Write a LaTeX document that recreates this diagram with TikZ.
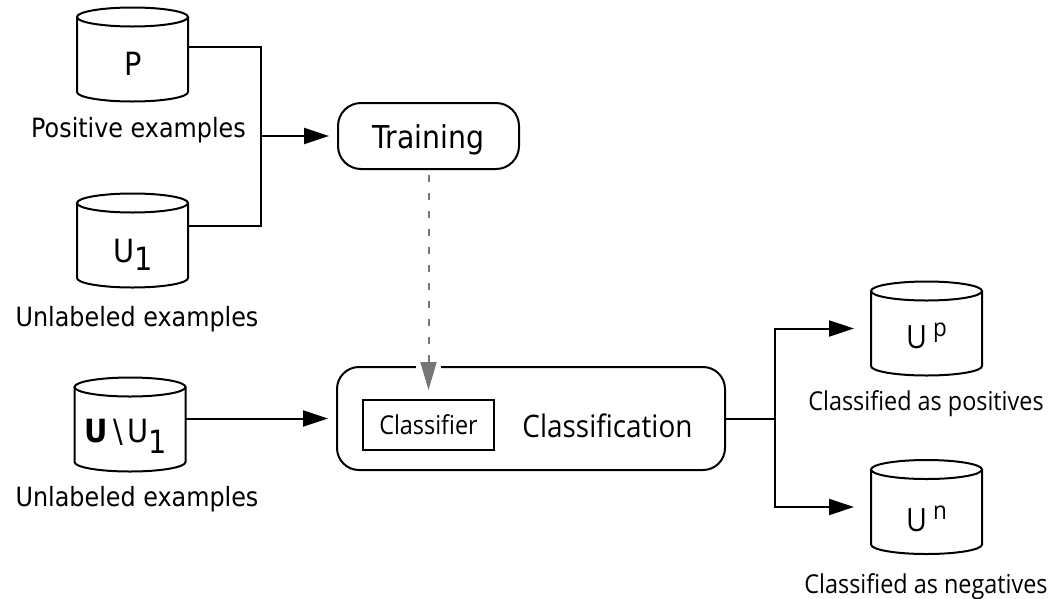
\documentclass[tikz,border=0pt]{standalone}
\usepackage{fontspec}
\setmainfont{DejaVu Sans}[FakeStretch=0.9]
\newfontfamily\myr{Open Sans}[FakeStretch=0.9]
\usetikzlibrary{arrows.meta}
\definecolor{arrowgray}{RGB}{118,118,118}
\tikzset{
  x=1pt,y=-1pt,
  every path/.style={line width=2pt},
  cylbody/.style={minimum width=111pt, minimum height=75pt, inner sep=0pt, outer sep=0pt, draw=none},
  lbl/.style={font=\fontsize{26.5}{30}\selectfont, anchor=base, inner sep=0pt},
  rlbl/.style={font=\myr\fontsize{26}{30}\selectfont, anchor=base, inner sep=0pt},
  inlbl/.style={anchor=base, inner sep=0pt},
  proc/.style={draw, line width=2pt, rounded corners=23pt, inner sep=0pt, outer sep=0pt},
  arr/.style={-{Triangle[length=25pt,width=16pt]}},
  dasharr/.style={draw=arrowgray, dash pattern=on 7pt off 11pt, line width=2pt,
    -{Triangle[length=28pt,width=16pt,fill=arrowgray]}}
}
\newcommand{\drawcyl}[1]{%
  \draw (#1.north west) -- (#1.south west) arc[start angle=180,end angle=360,x radius=55.5pt,y radius=9.5pt] -- (#1.north east);
  \draw (#1.north) ellipse[x radius=55.5pt,y radius=9.5pt];}
\begin{document}
\begin{tikzpicture}
\useasboundingbox (0,0) rectangle (1056,598);
% cylinders
\node[cylbody] (P) at (132.5,54.5) {};
\node[cylbody] (U1) at (132.5,240.5) {};
\node[cylbody] (UU) at (130,424.5) {};
\node[cylbody] (Up) at (926.5,328.5) {};
\node[cylbody] (Un) at (926.5,507) {};
\drawcyl{P}\drawcyl{U1}\drawcyl{UU}\drawcyl{Up}\drawcyl{Un}
% labels inside cylinders
\node[inlbl, font=\fontsize{32}{34}\selectfont] (Plbl) at (133.5,75) {P};
\node[inlbl, font=\fontsize{32}{34}\selectfont] (U1lbl) at (133.5,262) {U\raisebox{-8pt}{1}};
\node[inlbl, font=\fontsize{32}{34}\selectfont] (UUlbl) at (126,442) {\textbf{U}\kern5pt\textbackslash\kern5pt U\raisebox{-11pt}{1}};
\node[inlbl, font=\myr\fontsize{32}{34}\selectfont] (Uplbl) at (926.5,348) {U\kern6pt\raisebox{12pt}{\fontsize{25}{25}\selectfont p}};
\node[inlbl, font=\myr\fontsize{32}{34}\selectfont] (Unlbl) at (926.5,531) {U\kern6pt\raisebox{12pt}{\fontsize{25}{25}\selectfont n}};
% captions
\node[lbl] (Ptxt) at (138.5,137) {Positive examples};
\node[lbl] (U1txt) at (137,326) {Unlabeled examples};
\node[lbl] (UUtxt) at (137,506) {Unlabeled examples};
\node[rlbl] (Uptxt) at (926,410) {Classified as positives};
\node[rlbl] (Untxt) at (926,593) {Classified as negatives};
% process boxes
\node[proc, minimum width=181pt, minimum height=66pt, text height=24pt, text depth=0pt,
      font=\fontsize{31.5}{34}\selectfont] (train) at (428.5,136) {Training};
\node[proc, rounded corners=22pt, minimum width=388pt, minimum height=103pt] (cls) at (531,418.5) {};
\node[draw, line width=2pt, minimum width=131pt, minimum height=50pt, inner sep=0pt, outer sep=0pt,
      font=\myr\fontsize{26}{30}\selectfont] (clf) at (428.5,425) {Classifier};
\node[inlbl, font=\myr\fontsize{31}{34}\selectfont] (clstxt) at (607.5,437) {Classification};
% connectors
\coordinate (j1) at (261,136);
\draw ([yshift=7.5pt]P.east) -| (j1);
\draw ([yshift=14.5pt]U1.east) -| (j1);
\draw[arr, shorten >=9pt] (j1) -- (train.west);
\draw[arr, shorten >=9pt] (UU.east |- cls.west) -- (cls.west);
\coordinate (j2) at (775,418.5);
\draw (cls.east) -- (j2);
\draw[arr, shorten >=17pt] (j2) |- (Up.west);
\draw[arr, shorten >=17pt] (j2) |- (Un.west);
% gap in the box border under the dashed arrow
\draw[white, line width=4pt] ([xshift=-12.5pt]train.south |- cls.north) -- ([xshift=12.5pt]train.south |- cls.north);
\draw[dasharr, shorten <=6pt, shorten >=10pt] (train.south) -- (train.south |- clf.north);
\end{tikzpicture}
\end{document}
